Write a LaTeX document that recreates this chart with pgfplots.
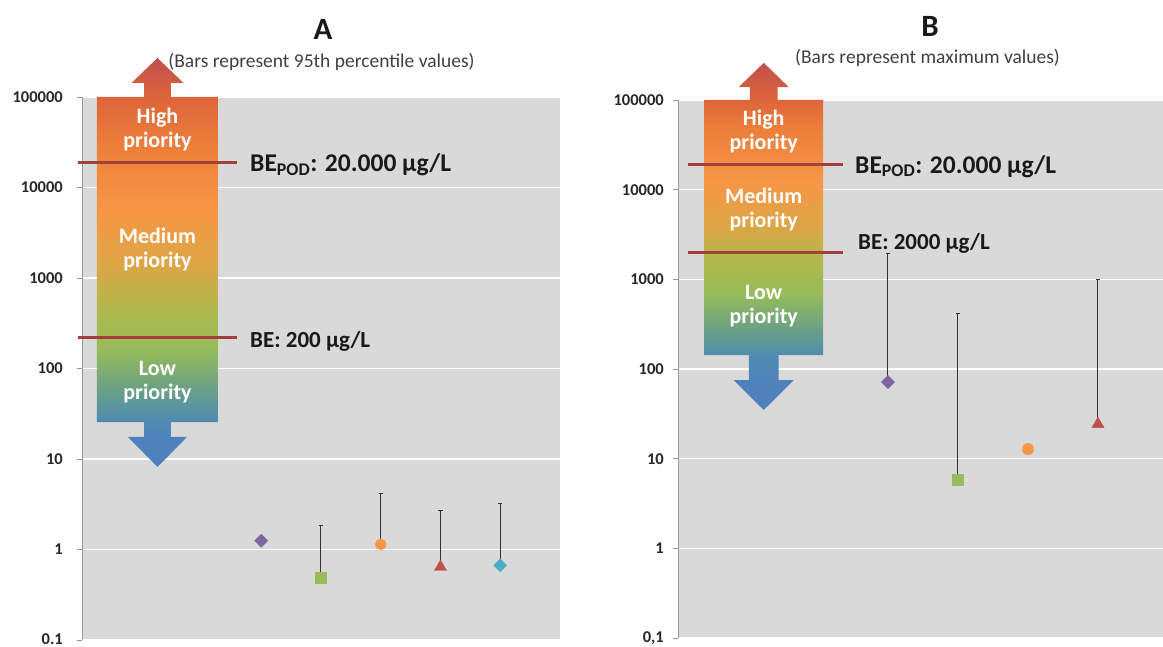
\documentclass[border=0pt]{standalone}
\usepackage{fontspec}
\setmainfont{Carlito}
\usepackage{pgfplots}
\pgfplotsset{compat=1.18}

\definecolor{bgGray}{RGB}{217,217,217}
\definecolor{axGray}{RGB}{150,150,150}
\definecolor{lineRed}{RGB}{162,64,60}
\definecolor{mPurple}{RGB}{128,100,162}
\definecolor{mGreen}{RGB}{155,187,89}
\definecolor{mOrange}{RGB}{247,150,70}
\definecolor{mRed}{RGB}{192,80,77}
\definecolor{mCyan}{RGB}{75,172,198}
\definecolor{arrRed}{RGB}{192,80,77}
\definecolor{arrRedOr}{RGB}{222,100,58}
\definecolor{arrOrDk}{RGB}{236,124,58}
\definecolor{arrOr}{RGB}{247,150,70}
\definecolor{arrOrY}{RGB}{222,165,70}
\definecolor{arrYG}{RGB}{175,185,78}
\definecolor{arrGreen}{RGB}{150,187,90}
\definecolor{arrGT}{RGB}{105,160,135}
\definecolor{arrTeal}{RGB}{80,140,175}
\definecolor{arrBlue}{RGB}{79,129,189}

\pgfdeclareverticalshading{arrowA}{100bp}{color(0bp)=(arrBlue); color(25bp)=(arrBlue); color(28.67bp)=(arrBlue); color(31bp)=(arrTeal); color(34.41bp)=(arrGT); color(39.3bp)=(arrGreen); color(44.19bp)=(arrYG); color(50.06bp)=(arrOrY); color(56.42bp)=(arrOr); color(64.98bp)=(arrOrDk); color(70.23bp)=(arrRedOr); color(75bp)=(arrRed); color(100bp)=(arrRed)}
\pgfdeclareverticalshading{arrowB}{100bp}{color(0bp)=(arrBlue); color(25bp)=(arrBlue); color(28.89bp)=(arrBlue); color(32.93bp)=(arrTeal); color(36.53bp)=(arrGT); color(41.57bp)=(arrGreen); color(46.33bp)=(arrYG); color(51.66bp)=(arrOrY); color(58.14bp)=(arrOr); color(66.07bp)=(arrOrDk); color(69.67bp)=(arrRedOr); color(75bp)=(arrRed); color(100bp)=(arrRed)}

\tikzset{armlabel/.style={font=\bfseries\fontsize{22}{24}\selectfont, text=white, align=center}}

\begin{document}
\begin{tikzpicture}
% ---------------- Panel A ----------------
\begin{axis}[at={(82pt,7pt)}, anchor=south west, scale only axis,
  width=478pt, height=543pt,
  xmin=0, xmax=8,
  ymode=log, ymin=0.1, ymax=100000,
  axis background/.style={fill=bgGray},
  axis x line=none, axis y line*=left,
  y axis line style={draw=axGray, line width=0.8pt},
  ytick={0.1,1,10,100,1000,10000,100000},
  yticklabels={\raisebox{2pt}{0.1},1,10,100,1000,10000,100000},
  yminorticks=false, xtick=\empty,
  tick align=outside, major tick length=5pt,
  ytick style={draw=axGray, line width=0.8pt},
  ymajorgrids, major grid style={draw=white, line width=1.5pt},
  yticklabel style={font=\bfseries\fontsize{16.5}{16.5}\selectfont, text=black!85, inner sep=0pt, xshift=-14pt},
  clip=false]
\shade[shading=arrowA] (axis cs:1.2636,269700) -- (axis cs:1.699,142800) -- (axis cs:1.489,142800)
  -- (axis cs:1.489,100000) -- (axis cs:2.276,100000) -- (axis cs:2.276,25.63)
  -- (axis cs:1.489,25.63) -- (axis cs:1.489,17.51) -- (axis cs:1.757,17.51)
  -- (axis cs:1.2636,8.158) -- (axis cs:0.770,17.51) -- (axis cs:1.038,17.51)
  -- (axis cs:1.038,25.63) -- (axis cs:0.251,25.63) -- (axis cs:0.251,100000)
  -- (axis cs:1.038,100000) -- (axis cs:1.038,142800) -- (axis cs:0.828,142800) -- cycle;
\node[armlabel] at (axis cs:1.2636,43500) {High\\priority};
\node[armlabel] at (axis cs:1.2636,2055) {Medium\\priority};
\node[armlabel] at (axis cs:1.2636,71.5) {Low\\priority};
\addplot[lineRed, line width=3.5pt] coordinates {(-0.067,19000) (2.594,19000)};
\addplot[lineRed, line width=3.5pt] coordinates {(-0.067,220) (2.594,220)};
\node[anchor=base west, inner sep=0pt, font=\bfseries\fontsize{25.5}{25.5}\selectfont, text=black!90] at (axis cs:2.812,14840) {BE\textsubscript{POD}: 20.000 µg/L};
\node[anchor=base west, inner sep=0pt, font=\bfseries\fontsize{23}{23}\selectfont, text=black!90] at (axis cs:2.812,168.5) {BE: 200 µg/L};
\addplot[only marks, mark=square*, mark size=4.6pt, mark options={rotate=45, fill=mPurple, draw=mPurple}] coordinates {(3,1.25)};
\addplot[only marks, mark=square*, mark size=5.5pt, mark options={fill=mGreen, draw=mGreen},
  error bars/.cd, y dir=plus, y explicit,
  error bar style={draw=black!80, line width=1pt},
  error mark options={rotate=90, draw=black!80, line width=1pt, mark size=2.2pt}] coordinates {(4,0.484) +- (0,1.381)};
\addplot[only marks, mark=*, mark size=5.5pt, mark options={fill=mOrange, draw=mOrange},
  error bars/.cd, y dir=plus, y explicit,
  error bar style={draw=black!80, line width=1pt},
  error mark options={rotate=90, draw=black!80, line width=1pt, mark size=2.2pt}] coordinates {(5,1.14) +- (0,3.04)};
\addplot[only marks, mark=triangle*, mark size=7pt, mark options={fill=mRed, draw=mRed},
  error bars/.cd, y dir=plus, y explicit,
  error bar style={draw=black!80, line width=1pt},
  error mark options={rotate=90, draw=black!80, line width=1pt, mark size=2.2pt}] coordinates {(6,0.641) +- (0,2.07)};
\addplot[only marks, mark=square*, mark size=4.6pt, mark options={rotate=45, fill=mCyan, draw=mCyan},
  error bars/.cd, y dir=plus, y explicit,
  error bar style={draw=black!80, line width=1pt},
  error mark options={rotate=90, draw=black!80, line width=1pt, mark size=2.2pt}] coordinates {(7,0.669) +- (0,2.57)};
\end{axis}
% ---------------- Panel B ----------------
\begin{axis}[at={(678pt,9pt)}, anchor=south west, scale only axis,
  width=485pt, height=538pt,
  xmin=0, xmax=6.929,
  ymode=log, ymin=0.1, ymax=100000,
  axis background/.style={fill=bgGray},
  axis x line=none, axis y line*=left,
  y axis line style={draw=axGray, line width=0.8pt},
  ytick={0.1,1,10,100,1000,10000,100000},
  yticklabels={{0,1},1,10,100,1000,10000,100000},
  yminorticks=false, xtick=\empty,
  tick align=outside, major tick length=5pt,
  ytick style={draw=axGray, line width=0.8pt},
  ymajorgrids, major grid style={draw=white, line width=1.5pt},
  yticklabel style={font=\bfseries\fontsize{16.5}{16.5}\selectfont, text=black!85, inner sep=0pt, xshift=-9pt},
  clip=false]
\shade[shading=arrowB] (axis cs:1.225,259400) -- (axis cs:1.582,139300) -- (axis cs:1.425,139300)
  -- (axis cs:1.425,100000) -- (axis cs:2.075,100000) -- (axis cs:2.075,143.2)
  -- (axis cs:1.439,143.2) -- (axis cs:1.439,75.3) -- (axis cs:1.654,75.3)
  -- (axis cs:1.225,34.9) -- (axis cs:0.796,75.3) -- (axis cs:1.011,75.3)
  -- (axis cs:1.011,143.2) -- (axis cs:0.375,143.2) -- (axis cs:0.375,100000)
  -- (axis cs:1.025,100000) -- (axis cs:1.025,139300) -- (axis cs:0.868,139300) -- cycle;
\node[armlabel] at (axis cs:1.225,45000) {High\\priority};
\node[armlabel] at (axis cs:1.225,5930) {Medium\\priority};
\node[armlabel] at (axis cs:1.225,504) {Low\\priority};
\addplot[lineRed, line width=3.5pt] coordinates {(0.143,19000) (2.357,19000)};
\addplot[lineRed, line width=3.5pt] coordinates {(0.143,2000) (2.357,2000)};
\node[anchor=base west, inner sep=0pt, font=\bfseries\fontsize{25.5}{25.5}\selectfont, text=black!90] at (axis cs:2.529,15320) {BE\textsubscript{POD}: 20.000 µg/L};
\node[anchor=base west, inner sep=0pt, font=\bfseries\fontsize{23}{23}\selectfont, text=black!90] at (axis cs:2.571,2150) {BE: 2000 µg/L};
\addplot[only marks, mark=square*, mark size=4.6pt, mark options={rotate=45, fill=mPurple, draw=mPurple},
  error bars/.cd, y dir=plus, y explicit,
  error bar style={draw=black!80, line width=1pt},
  error mark options={rotate=90, draw=black!80, line width=1pt, mark size=2.2pt}] coordinates {(3,71.6) +- (0,1878)};
\addplot[only marks, mark=square*, mark size=5.5pt, mark options={fill=mGreen, draw=mGreen},
  error bars/.cd, y dir=both, y explicit,
  error bar style={draw=black!80, line width=1pt},
  error mark options={rotate=90, draw=black!80, line width=1pt, mark size=2.2pt}] coordinates {(4,5.78) += (0,415) -= (0,0.7)};
\addplot[only marks, mark=*, mark size=5.8pt, mark options={fill=mOrange, draw=mOrange}] coordinates {(5,12.8)};
\addplot[only marks, mark=triangle*, mark size=7pt, mark options={fill=mRed, draw=mRed},
  error bars/.cd, y dir=plus, y explicit,
  error bar style={draw=black!80, line width=1pt},
  error mark options={rotate=90, draw=black!80, line width=1pt, mark size=2.2pt}] coordinates {(6,24.3) +- (0,976)};
\end{axis}
% ---------------- Titles ----------------
\node[font=\bfseries\fontsize{31}{31}\selectfont, text=black!90] at (323pt,618pt) {A};
\node[font=\fontsize{19.5}{19.5}\selectfont, text=black!75] at (321.5pt,585pt) {(Bars represent 95th percentile values)};
\node[font=\bfseries\fontsize{31}{31}\selectfont, text=black!90] at (930pt,621pt) {B};
\node[font=\fontsize{19.5}{19.5}\selectfont, text=black!75] at (927.5pt,589pt) {(Bars represent maximum values)};
\pgfresetboundingbox
\path[use as bounding box] (0pt,0pt) rectangle (1163pt,647pt);
\end{tikzpicture}
\end{document}
